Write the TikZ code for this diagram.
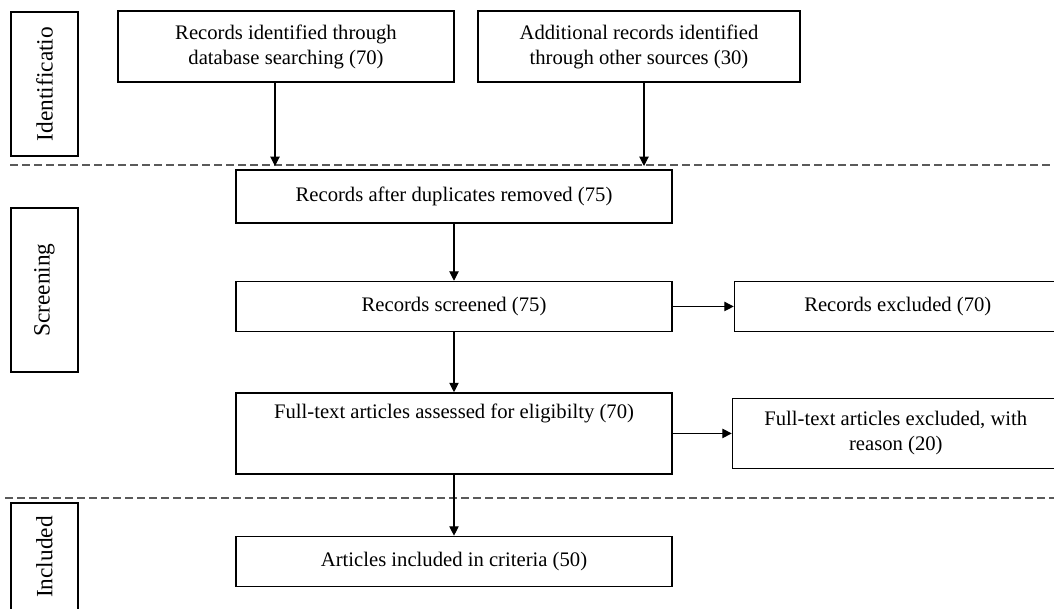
\documentclass[tikz,border=0pt]{standalone}
\usepackage{fontspec}
\setmainfont{Liberation Serif}
\usepackage{xcolor}
\usetikzlibrary{arrows.meta,positioning}
\definecolor{prismaInk}{HTML}{000000}
\definecolor{prismaDash}{HTML}{5A5A5A}
\tikzset{
  source/.style={
    rectangle,
    draw=prismaInk,
    line width=1.1pt,
    inner sep=0pt,
    minimum height=53.25pt,
    align=center,
    font=\fontsize{15.5}{18.75}\selectfont
  },
  record/.style={
    rectangle,
    draw=prismaInk,
    line width=1.1pt,
    inner sep=0pt,
    minimum width=327pt,
    minimum height=37.5pt,
    align=center,
    font=\fontsize{15.5}{18.75}\selectfont
  },
  excluded/.style={
    rectangle,
    draw=prismaInk,
    line width=1.1pt,
    inner sep=0pt,
    minimum width=245pt,
    minimum height=37.5pt,
    align=center,
    font=\fontsize{15.5}{18.75}\selectfont
  },
  stage/.style={
    rectangle,
    rotate=90,
    draw=prismaInk,
    line width=1.1pt,
    inner sep=0pt,
    minimum height=50.25pt,
    font=\fontsize{17.5}{20}\selectfont
  },
  arrow/.style={
    -{Triangle[length=7pt,width=7pt]},
    line width=0.8pt,
    draw=prismaInk
  },
  phaseline/.style={
    dash pattern=on 6pt off 3pt,
    line width=1pt,
    draw=prismaDash
  }
}
\begin{document}
\begin{tikzpicture}[x=0.75pt,y=-0.75pt]
  \clip (0,0) rectangle (1054,608);
  % stage labels
  \node[stage,minimum width=108pt] (ident) at (44.5,84) {Identificatio};
  \node[stage,minimum width=123pt] (screen) at (44.5,290) {Screening};
  \node[stage,minimum width=81pt] (incl) at (44.5,557) {Included};
  % phase separators
  \draw[phaseline] (10,165) -- (1054,165);
  \draw[phaseline] (5,498) -- (1054,498);
  % flow
  \node[source,minimum width=252pt] (search) at (286,46.5) {Records identified through\\database searching (70)};
  \node[source,minimum width=241.5pt] (other) at (639,46.5) {Additional records identified\\through other sources (30)};
  \node[record,minimum height=39.75pt] (dedup) at (454,196.5) {Records after duplicates removed (75)};
  \node[record,below=42.75pt of dedup] (screened) {Records screened (75)};
  \node[excluded,anchor=west] (recexcl) at ([xshift=45.75pt]screened.east) {Records excluded (70)};
  \node[record,below=45pt of screened,minimum height=60.75pt] (assessed) {Full-text articles assessed for eligibilty (70)\\[14pt]~};
  \node[excluded,anchor=west,minimum height=52.5pt] (ftexcl) at ([xshift=44.25pt]assessed.east) {Full-text articles excluded, with\\reason (20)};
  \node[record,below=45.75pt of assessed] (included) {Articles included in criteria (50)};
  \coordinate (joinA) at (275,166);
  \coordinate (joinB) at (644,166);
  \draw[arrow] (search.south -| joinA) -- (joinA);
  \draw[arrow] (other.south -| joinB) -- (joinB);
  \draw[arrow] (dedup) -- (screened);
  \draw[arrow] (screened) -- (recexcl);
  \draw[arrow] (screened) -- (assessed);
  \draw[arrow] (assessed) -- (ftexcl);
  \draw[arrow] (assessed) -- (included);
\end{tikzpicture}
\end{document}
